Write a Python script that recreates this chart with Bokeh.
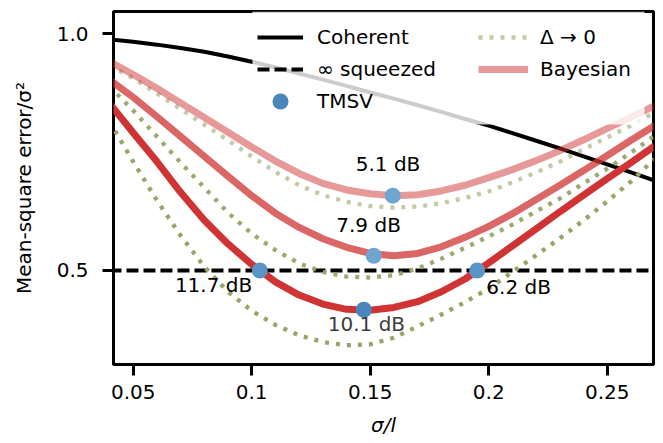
from bokeh.plotting import figure
from bokeh.models import Range1d, FixedTicker, Legend, LegendItem, BoxAnnotation, ColumnDataSource
from bokeh.core.properties import value
from bokeh.embed import file_html
from bokeh.resources import INLINE

try:
    from bokeh.models import Spline
except ImportError:
    Spline = None

FONT = "DejaVu Sans"

# ---------------- data ----------------
sigma_l = [0.04, 0.05, 0.06, 0.07, 0.08, 0.09, 0.10, 0.11, 0.12, 0.13, 0.14, 0.15,
           0.16, 0.17, 0.18, 0.19, 0.20, 0.21, 0.22, 0.23, 0.24, 0.25, 0.26, 0.27]

coherent = [0.988, 0.983, 0.977, 0.970, 0.962, 0.952, 0.941, 0.929, 0.916, 0.903, 0.890, 0.876,
            0.863, 0.849, 0.835, 0.820, 0.806, 0.790, 0.774, 0.758, 0.741, 0.724, 0.707, 0.690]

squeezed_level = 0.5

bayes_51 = [0.941, 0.914, 0.885, 0.854, 0.823, 0.792, 0.761, 0.731, 0.705, 0.684, 0.670, 0.662,
            0.658, 0.660, 0.668, 0.680, 0.696, 0.713, 0.732, 0.753, 0.776, 0.800, 0.824, 0.848]
bayes_79 = [0.903, 0.866, 0.825, 0.783, 0.741, 0.699, 0.658, 0.621, 0.591, 0.567, 0.549, 0.536,
            0.531, 0.536, 0.550, 0.570, 0.593, 0.620, 0.650, 0.680, 0.711, 0.743, 0.775, 0.806]
bayes_101 = [0.853, 0.791, 0.730, 0.665, 0.606, 0.556, 0.513, 0.476, 0.448, 0.429, 0.418, 0.416,
             0.422, 0.434, 0.455, 0.482, 0.516, 0.552, 0.588, 0.624, 0.659, 0.694, 0.728, 0.763]

limit_51 = [0.933, 0.906, 0.874, 0.841, 0.808, 0.775, 0.741, 0.708, 0.680, 0.659, 0.645, 0.636,
            0.633, 0.635, 0.642, 0.653, 0.667, 0.686, 0.707, 0.730, 0.756, 0.781, 0.806, 0.834]
limit_79 = [0.889, 0.838, 0.783, 0.728, 0.675, 0.622, 0.578, 0.543, 0.515, 0.497, 0.487, 0.485,
            0.490, 0.504, 0.525, 0.548, 0.572, 0.597, 0.625, 0.652, 0.684, 0.715, 0.749, 0.785]
limit_101 = [0.815, 0.730, 0.648, 0.574, 0.508, 0.455, 0.415, 0.385, 0.363, 0.349, 0.342, 0.344,
             0.358, 0.382, 0.407, 0.433, 0.462, 0.497, 0.532, 0.568, 0.606, 0.646, 0.688, 0.736]

tmsv_x = [0.1595, 0.1515, 0.1473, 0.1034, 0.1951]
tmsv_y = [0.658, 0.531, 0.417, 0.500, 0.500]
tmsv_labels = ["5.1 dB", "7.9 dB", "10.1 dB", "11.7 dB", "6.2 dB"]
label_x = [0.1575, 0.1493, 0.1484, 0.0839, 0.2126]
label_y = [0.724, 0.597, 0.386, 0.4703, 0.4661]

x_ticks = [0.05, 0.1, 0.15, 0.2, 0.25]
x_tick_labels = ["0.05", "0.1", "0.15", "0.2", "0.25"]
y_ticks = [0.5, 1.0]
y_tick_labels = ["0.5", "1.0"]

# ---------------- styles ----------------
RED = "#cf3333"
OLIVE = "#98a468"
DOT_COLORS = ["#6fa6d0", "#6fa6d0", "#4886bc", "#5995c5", "#5995c5"]
LABEL_COLORS = ["black", "black", "#3d3d3d", "black", "black"]

STY_COH = dict(line_color="black", line_width=4)
STY_SQ = dict(line_color="black", line_width=4, line_dash="12 5")
STY_L101 = dict(line_color=OLIVE, line_alpha=1.0, line_width=4.3, line_dash="4 7")
STY_L79 = dict(line_color=OLIVE, line_alpha=0.95, line_width=4.3, line_dash="4 7")
STY_L51 = dict(line_color=OLIVE, line_alpha=0.58, line_width=4.3, line_dash="4 7")
STY_B101 = dict(line_color=RED, line_alpha=1.0, line_width=7)
STY_B79 = dict(line_color=RED, line_alpha=0.75, line_width=7)
STY_B51 = dict(line_color=RED, line_alpha=0.5, line_width=7)

p = figure(width=663, height=443, output_backend="svg", toolbar_location=None,
           x_range=Range1d(0.0417, 0.2695), y_range=Range1d(0.3014, 1.047),
           min_border_left=113, min_border_right=10, min_border_top=11, min_border_bottom=79)
p.background_fill_color = "white"
p.border_fill_color = "white"
p.outline_line_color = "black"
p.outline_line_width = 3
p.outline_line_alpha = 1.0
p.xgrid.visible = False
p.ygrid.visible = False

p.xaxis.ticker = FixedTicker(ticks=x_ticks)
p.xaxis.major_label_overrides = dict(zip(x_ticks, x_tick_labels))
p.yaxis.ticker = FixedTicker(ticks=y_ticks)
p.yaxis.major_label_overrides = dict(zip(y_ticks, y_tick_labels))

for ax in (p.xaxis[0], p.yaxis[0]):
    ax.axis_line_color = None
    ax.major_tick_line_width = 3
    ax.major_tick_line_color = "black"
    ax.major_tick_out = 11
    ax.major_tick_in = 0
    ax.minor_tick_line_color = None
    ax.major_label_text_font = FONT
    ax.major_label_text_font_size = "20px"
    ax.major_label_text_color = "black"
    ax.axis_label_text_font = FONT
    ax.axis_label_text_font_size = "20px"
    ax.axis_label_text_color = "black"

p.xaxis.axis_label = "σ/l"
p.xaxis.axis_label_text_font_style = "italic"
p.xaxis.major_label_standoff = 9
p.xaxis.axis_label_standoff = 11
p.yaxis.axis_label = "Mean-square error/σ²"
p.yaxis.axis_label_text_font_style = "normal"
p.yaxis.major_label_standoff = 14
p.yaxis.axis_label_standoff = 18


def curve(x, y, **style):
    """Smooth curve through the read points (Spline glyph if available)."""
    if Spline is not None:
        src = ColumnDataSource(dict(x=list(x), y=list(y)))
        return p.add_glyph(src, Spline(x="x", y="y", tension=0.5, **style))
    return p.line(x, y, **style)


# ---------------- curves ----------------
curve(sigma_l, coherent, **STY_COH)
r_sq = p.line(sigma_l, [squeezed_level] * len(sigma_l), **STY_SQ)

curve(sigma_l, limit_101, **STY_L101)
curve(sigma_l, limit_79, **STY_L79)
curve(sigma_l, limit_51, **STY_L51)

curve(sigma_l, bayes_101, **STY_B101)
curve(sigma_l, bayes_79, **STY_B79)
curve(sigma_l, bayes_51, **STY_B51)

src = ColumnDataSource(dict(x=tmsv_x, y=tmsv_y, c=DOT_COLORS))
r_dots = p.scatter("x", "y", source=src, size=16, fill_color="c", line_color=None)

p.text(x=label_x, y=label_y, text=tmsv_labels, text_font=value(FONT),
       text_font_size=value("20px"), text_align="center", text_baseline="middle",
       text_color=LABEL_COLORS)

# hidden proxies that carry the line styles for the legend
lg_coh = p.line(sigma_l, coherent, visible=False, **STY_COH)
lg_l51 = p.line(sigma_l, limit_51, visible=False, **STY_L51)
lg_b51 = p.line(sigma_l, bayes_51, visible=False, **STY_B51)

# ---------------- legend ----------------
bg = BoxAnnotation(left=0.1003, right=0.2657, bottom=0.8084,
                   fill_color="white", fill_alpha=0.8, line_color=None)
p.add_layout(bg)

common = dict(orientation="vertical", padding=0, margin=0, spacing=8,
              label_height=20,
              label_text_font=FONT, label_text_font_size="20px", label_text_color="black",
              background_fill_alpha=0, border_line_alpha=0)

leg1 = Legend(items=[LegendItem(label="Coherent", renderers=[lg_coh]),
                     LegendItem(label="∞ squeezed", renderers=[r_sq])],
              location=(144, 283), glyph_width=46, glyph_height=20, label_standoff=14, **common)
leg3 = Legend(items=[LegendItem(label="TMSV", renderers=[r_dots], index=2)],
              location=(144, 243), glyph_width=46, glyph_height=40, label_standoff=14, **common)
leg2 = Legend(items=[LegendItem(label="Δ → 0", renderers=[lg_l51]),
                     LegendItem(label="Bayesian", renderers=[lg_b51])],
              location=(365, 283), glyph_width=50, glyph_height=20, label_standoff=12, **common)
p.add_layout(leg1)
p.add_layout(leg3)
p.add_layout(leg2)

open("out.html", "w").write(file_html(p, INLINE))
